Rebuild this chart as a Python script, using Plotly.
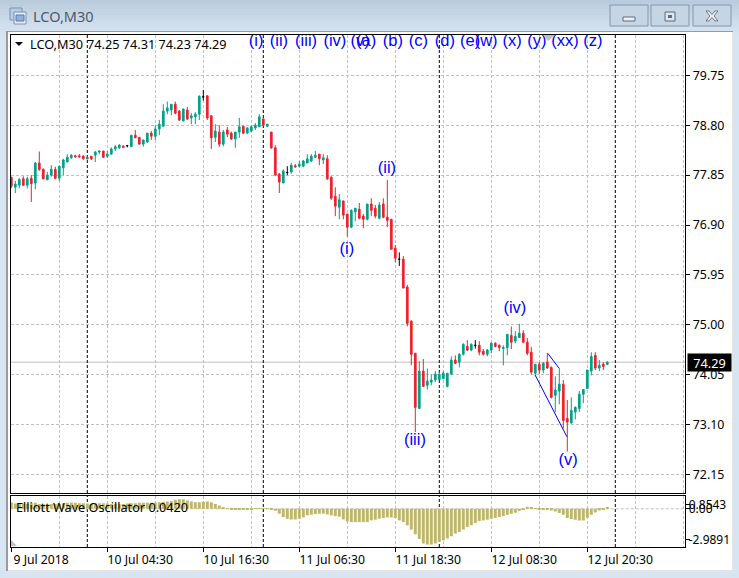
import plotly.graph_objects as go

W, H = 739, 578

# ---------- chart data ----------
open_ = [77.81,77.62,77.66,77.78,77.66,77.79,77.70,78.08,77.96,77.76,
         77.85,77.96,77.79,77.99,78.10,78.18,78.22,78.22,78.21,78.16,
         78.21,78.23,78.29,78.31,78.21,78.25,78.35,78.37,78.40,78.41,
         78.39,78.61,78.57,78.44,78.48,78.65,78.59,78.73,78.78,79.07,
         79.09,79.20,79.07,78.88,79.09,78.94,78.96,79.01,79.34,79.36,
         78.98,78.57,78.67,78.44,78.71,78.65,78.54,78.67,78.78,78.65,
         78.69,78.75,78.77,78.92,78.78,78.67,78.37,77.87,77.70,77.90,
         77.91,78.03,78.02,78.02,78.08,78.12,78.19,78.25,78.14,78.16,
         77.81,77.45,77.24,77.36,77.11,76.86,77.15,77.20,77.07,77.01,
         77.30,77.22,77.03,77.30,77.05,77.01,76.46,76.25,76.25,75.72,
         75.07,74.46,73.41,74.12,73.85,73.91,73.95,73.96,73.98,73.83,
         74.06,74.33,74.29,74.44,74.59,74.52,74.61,74.61,74.50,74.44,
         74.52,74.65,74.61,74.55,74.57,74.80,74.69,74.76,74.84,74.67,
         74.48,74.08,74.25,74.14,74.29,74.19,73.66,73.74,73.87,73.22,
         73.13,73.34,73.41,73.68,73.79,74.12,74.42,74.18,74.25,74.25]
high = [77.82,77.74,77.79,77.83,77.82,77.85,78.10,78.30,77.98,77.91,
        78.04,78.01,78.02,78.16,78.25,78.25,78.24,78.25,78.23,78.20,
        78.21,78.31,78.31,78.31,78.31,78.38,78.42,78.44,78.42,78.42,
        78.61,78.71,78.57,78.52,78.65,78.69,78.80,78.90,79.20,79.25,
        79.20,79.25,79.09,79.11,79.15,79.03,79.05,79.37,79.47,79.37,
        78.99,78.82,78.80,78.71,78.77,78.68,78.67,78.94,78.78,78.75,
        78.80,78.84,79.01,78.93,78.82,78.67,78.42,77.89,77.96,78.02,
        78.08,78.06,78.12,78.14,78.25,78.25,78.31,78.25,78.25,78.23,
        77.83,77.62,77.49,77.36,77.11,77.20,77.22,77.32,77.11,77.30,
        77.41,77.28,77.34,77.41,77.76,77.01,76.52,76.38,76.31,75.76,
        75.09,74.46,74.31,74.35,74.17,74.06,74.12,74.10,74.12,74.08,
        74.40,74.42,74.46,74.65,74.71,74.65,74.71,74.69,74.54,74.54,
        74.67,74.67,74.63,74.61,74.82,74.97,74.88,75.02,74.90,74.75,
        74.58,74.25,74.29,74.29,74.46,74.21,74.02,74.17,73.95,73.57,
        73.62,73.45,73.74,73.77,74.14,74.48,74.48,74.33,74.29,74.31]
low = [77.60,77.51,77.60,77.64,77.60,77.34,77.58,77.93,77.77,77.76,
       77.82,77.77,77.74,77.85,78.10,78.16,78.18,78.18,78.15,78.15,
       78.14,78.10,78.25,78.19,78.18,78.25,78.31,78.35,78.38,78.38,
       78.39,78.56,78.44,78.39,78.46,78.52,78.52,78.61,78.78,79.01,
       78.99,79.01,78.88,78.88,78.90,78.82,78.82,78.90,79.27,78.90,
       78.35,78.48,78.39,78.40,78.57,78.52,78.37,78.56,78.63,78.63,
       78.67,78.71,78.77,78.78,78.77,78.35,77.85,77.51,77.70,77.85,
       77.88,77.99,78.00,78.00,78.08,78.10,78.18,78.04,78.06,77.76,
       77.38,77.07,77.01,77.01,76.68,76.84,76.97,77.01,76.84,76.99,
       77.07,77.03,77.01,77.03,76.86,76.44,76.19,76.12,75.70,74.97,
       74.23,72.96,73.41,73.83,73.77,73.85,73.91,73.95,73.96,73.81,
       74.06,74.25,74.19,74.42,74.50,74.50,74.55,74.42,74.42,74.40,
       74.46,74.57,74.50,74.23,74.42,74.54,74.65,74.76,74.65,74.42,
       74.06,74.02,74.06,74.08,74.16,73.60,73.34,73.49,73.03,72.59,
       73.13,73.20,73.34,73.51,73.79,74.04,74.14,74.12,74.14,74.23]
close = [77.64,77.68,77.77,77.66,77.78,77.69,78.08,77.96,77.78,77.85,
         77.96,77.79,78.02,78.14,78.19,78.23,78.20,78.20,78.16,78.19,
         78.16,78.29,78.31,78.19,78.25,78.35,78.39,78.42,78.38,78.41,
         78.61,78.56,78.44,78.52,78.65,78.59,78.73,78.82,79.07,79.13,
         79.20,79.03,78.90,79.11,78.92,78.98,79.01,79.35,79.34,78.94,
         78.56,78.69,78.44,78.67,78.63,78.54,78.67,78.77,78.65,78.75,
         78.77,78.80,78.96,78.80,78.82,78.37,77.85,77.72,77.93,77.90,
         78.04,78.01,78.06,78.12,78.16,78.21,78.23,78.16,78.18,77.78,
         77.41,77.26,77.38,77.09,76.86,77.18,77.22,77.03,77.01,77.30,
         77.18,77.07,77.28,77.05,76.99,76.44,76.27,76.25,75.70,75.03,
         74.44,73.43,74.12,73.83,73.93,73.95,74.06,74.06,74.08,74.08,
         74.33,74.27,74.44,74.63,74.52,74.63,74.61,74.48,74.44,74.52,
         74.65,74.59,74.57,74.57,74.82,74.67,74.78,74.84,74.67,74.46,
         74.10,74.25,74.14,74.27,74.18,73.62,73.76,73.87,73.18,73.15,
         73.37,73.43,73.68,73.77,74.14,74.40,74.18,74.23,74.21,74.29]
oscillator = [.50,.44,.41,.44,.41,.47,.50,.41,.39,.39,
              .41,.41,.41,.47,.50,.53,.50,.47,.47,.44,
              .41,.44,.47,.47,.44,.41,.41,.39,.41,.44,
              .47,.47,.50,.50,.50,.50,.53,.55,.58,.61,
              .64,.75,.79,.79,.69,.61,.55,.55,.58,.61,
              .55,.41,.28,.14,.03,-.03,-.06,-.06,-.05,-.04,
              -.02,-.01,.01,.02,.01,-.06,-.17,-.41,-.69,-.83,
              -.89,-.89,-.83,-.72,-.55,-.50,-.44,-.41,-.41,-.47,
              -.55,-.61,-.66,-.89,-1.05,-1.11,-1.11,-1.11,-1.11,-1.11,
              -.97,-.91,-.83,-.77,-.72,-.72,-.77,-.97,-1.11,-1.38,
              -1.74,-2.13,-2.52,-2.90,-2.99,-2.99,-2.90,-2.77,-2.63,-2.49,
              -2.30,-2.07,-1.94,-1.74,-1.52,-1.38,-1.19,-1.02,-.97,-.91,
              -.83,-.77,-.69,-.61,-.50,-.41,-.33,-.19,-.03,.17,
              .08,.03,-.08,-.11,-.08,-.14,-.22,-.36,-.50,-.77,
              -.86,-.91,-.97,-.97,-.75,-.50,-.30,-.14,-.06,.08]

price_ticks = [79.75, 78.80, 77.85, 76.90, 75.95, 75.00, 74.05, 73.10, 72.15]
price_labels = ["79.75", "78.80", "77.85", "76.90", "75.95", "75.00", "74.05", "73.10", "72.15"]
date_ticks = [0, 24, 48, 72, 96, 120, 144]
date_labels = ["9 Jul 2018\u00a0\u00a0", "10 Jul 04:30", "10 Jul 16:30", "11 Jul 06:30",
               "11 Jul 18:30", "12 Jul 08:30", "12 Jul 20:30"]
grid_bars = [12, 36, 60, 84, 108, 132, 156, 168]
day_breaks = [19, 63, 107, 151]
osc_ticks = [0.37, 0.0, -2.59]
osc_labels = ["0.8543", "0.00", "-2.9891"]

wave_names = ["(i)", "(ii)", "(iii)", "(iv)", "(v)"]
wave_x = [83.9, 93.9, 100.9, 125.9, 139.2]
wave_y = [76.42, 77.97, 72.80, 75.30, 72.42]
top_names = ["(i)", "(ii)", "(iii)", "(iv)", "(v)", "(a)", "(b)", "(c)", "(d)", "(e)",
             "(w)", "(x)", "(y)", "(xx)", "(z)"]
top_x = [61.2, 66.9, 73.7, 80.9, 87.2, 88.7, 95.4, 101.8, 108.4, 114.7,
         118.7, 125.2, 131.4, 138.4, 145.4]
top_y = [80.385] * len(top_names)
wedge_upper_x = [134.1, 137.0]
wedge_upper_y = [74.46, 74.17]
wedge_lower_x = [131.0, 138.9]
wedge_lower_y = [74.04, 72.87]
last_price = 74.29

GREEN, RED = "#00A287", "#EE2229"
GRID = "#C0C0C0"
FONT = "Noto Sans"
TXT = 12.7


def fx(v):
    return v / W


def fy(v):
    return 1 - v / H


bars = list(range(len(open_)))
body = [i for i in bars if open_[i] != close[i]]
doji = [i for i in bars if open_[i] == close[i]]

fig = go.Figure()
fig.add_trace(go.Candlestick(
    x=body,
    open=[open_[i] for i in body], high=[high[i] for i in body],
    low=[low[i] for i in body], close=[close[i] for i in body],
    increasing=dict(line=dict(color=GREEN, width=1), fillcolor=GREEN),
    decreasing=dict(line=dict(color=RED, width=1), fillcolor=RED),
    whiskerwidth=0, hoverinfo="skip", showlegend=False, xaxis="x", yaxis="y"))
fig.add_trace(go.Candlestick(
    x=doji,
    open=[open_[i] for i in doji], high=[high[i] for i in doji],
    low=[low[i] for i in doji], close=[close[i] for i in doji],
    increasing=dict(line=dict(color="black", width=1), fillcolor="black"),
    decreasing=dict(line=dict(color="black", width=1), fillcolor="black"),
    whiskerwidth=0, hoverinfo="skip", showlegend=False, xaxis="x", yaxis="y"))
fig.add_trace(go.Scatter(x=wedge_upper_x, y=wedge_upper_y, mode="lines",
                         line=dict(color="#0000FF", width=1), hoverinfo="skip", showlegend=False))
fig.add_trace(go.Scatter(x=wedge_lower_x, y=wedge_lower_y, mode="lines",
                         line=dict(color="#0000FF", width=1), hoverinfo="skip", showlegend=False))
for xs, ys, names in ((wave_x, wave_y, wave_names), (top_x, top_y, top_names)):
    fig.add_trace(go.Scatter(x=xs, y=ys, text=names, mode="text",
                             textposition="middle center",
                             textfont=dict(family="Liberation Sans", size=16.5, color="#0000FF"),
                             hoverinfo="skip", showlegend=False))
fig.add_trace(go.Bar(x=bars, y=oscillator, marker=dict(color="#BDB76B", line=dict(width=0)),
                     hoverinfo="skip", showlegend=False, xaxis="x2", yaxis="y2"))

shapes = []


def rect(x0, y0, x1, y1, fill, line=None, lw=1, layer="below"):
    shapes.append(dict(type="rect", xref="paper", yref="paper", layer=layer,
                       x0=fx(x0), x1=fx(x1), y0=fy(y0), y1=fy(y1),
                       fillcolor=fill, line=dict(color=line or fill, width=lw if line else 0)))


def poly(pts, fill, layer="above", line=None):
    p = "M" + " L".join(f"{fx(a):.5f},{fy(b):.5f}" for a, b in pts) + " Z"
    shapes.append(dict(type="path", path=p, xref="paper", yref="paper", layer=layer,
                       fillcolor=fill, line=dict(color=line or fill, width=1 if line else 0)))


# window chrome: title-bar gradient, frame, client area
strip_cols = ["#B9CBDC", "#BCCEDE", "#BFD0E0", "#C2D3E3", "#C5D5E5", "#C8D8E7",
              "#CBDAE9", "#CEDDEB", "#D0DFED", "#D3E1EF", "#D5E3F0"]
for k, col in enumerate(strip_cols):
    rect(0, k * 3, W, (k + 1) * 3 + 1, col)
rect(6, 31, 733, 572, "#E4E4E4")
rect(7, 31, 733, 32, "#9A9A9A")
rect(6, 31, 8, 571, "#9A9A9A")
rect(8, 32, 732, 570, "white")
rect(10, 34, 686, 548, "white")

# title icon
rect(10, 8, 22, 20, "#B8CCE4", "#7F93B2")
rect(14, 12, 26, 24, "#E3ECF7", "#7F93B2")
rect(16, 15, 24, 21, "#8FB0DA", "#5C7BA8")
# window buttons
for x0, x1 in ((610, 648), (651, 689), (693, 731)):
    rect(x0, 5, x1, 26, "#C6D5E4", "#8496AD")
rect(623, 17, 635, 21, "#EEF2F6", "#5E6B7B")
rect(665, 12, 675, 21, "#DDE5ED", "#5E6B7B")
rect(668, 15, 672, 18, "#5E6B7B")
poly([(706, 11), (709, 11), (712, 14.5), (715, 11), (718, 11), (714, 16), (718, 21), (715, 21),
      (712, 17.5), (709, 21), (706, 21), (710, 16)], "#F2F4F7", line="#6A7787")

# markers inside the chart
poly([(15, 42), (23, 42), (19, 46)], "black")
poly([(543, 35), (555, 35), (548, 41)], "#C0C0C0")
poly([(11, 546), (11, 540), (17, 546)], "#C0C0C0")

# last-price line and day separators
shapes.append(dict(type="line", xref="x domain", yref="y", x0=0, x1=1, y0=last_price, y1=last_price,
                   layer="below", line=dict(color=GRID, width=1)))
for d in day_breaks:
    for yr in ("y domain", "y2 domain"):
        shapes.append(dict(type="line", xref="x", yref=yr, x0=d, x1=d, y0=0, y1=1, layer="below",
                           line=dict(color="black", width=1, dash="3px,2px")))

annotations = [
    dict(xref="paper", yref="paper", x=fx(28), y=fy(44), text="LCO,M30", showarrow=False,
         xanchor="left", yanchor="middle", font=dict(family=FONT, size=TXT, color="black")),
    dict(xref="paper", yref="paper", x=fx(85), y=fy(44), text="74.25 74.31 74.23 74.29", showarrow=False,
         xanchor="left", yanchor="middle", font=dict(family=FONT, size=TXT, color="black")),
    dict(xref="paper", yref="paper", x=fx(14), y=fy(506.5), text="Elliott Wave Oscillator 0.0420",
         showarrow=False, xanchor="left", yanchor="middle",
         font=dict(family=FONT, size=TXT, color="black")),
    dict(xref="paper", yref="paper", x=fx(31), y=fy(16), text="LCO,M30", showarrow=False,
         xanchor="left", yanchor="middle", font=dict(family=FONT, size=14.5, color="#4C5A6B")),
    dict(xref="paper", yref="y", x=fx(687), y=last_price, text="74.29", showarrow=False,
         xanchor="left", yanchor="middle", bgcolor="black", width=41, height=15,
         font=dict(family=FONT, size=TXT, color="white")),
]

axis_common = dict(showline=True, linecolor="black", linewidth=1, mirror=True, zeroline=False,
                   gridcolor=GRID, griddash="3px,2px", gridwidth=1)

fig.update_layout(
    width=W, height=H, autosize=False,
    margin=dict(l=0, r=0, t=0, b=0, pad=0),
    paper_bgcolor="#D7E4F1", plot_bgcolor="rgba(0,0,0,0)",
    showlegend=False, bargap=0.25, boxgap=0.4, boxmode="overlay",
    font=dict(family=FONT, size=TXT, color="black"),
    shapes=shapes, annotations=annotations,
    xaxis=dict(domain=[fx(10.7), fx(685.3)], range=[-0.15, 168.5], anchor="y", matches="x2",
               rangeslider=dict(visible=False), tickmode="array", tickvals=date_ticks,
               ticktext=date_labels, showticklabels=False, ticks="", showgrid=True,
               minor=dict(tickvals=grid_bars, showgrid=True, ticks="", griddash="3px,2px",
                          gridcolor=GRID, gridwidth=1), **axis_common),
    yaxis=dict(domain=[fy(493.0), fy(34.5)], range=[71.80, 80.527], anchor="x", side="right",
               tickmode="array", tickvals=price_ticks, ticktext=price_labels, ticks="outside",
               ticklen=4, tickcolor="black", tickfont=dict(size=12.4), showgrid=True, **axis_common),
    xaxis2=dict(domain=[fx(10.7), fx(685.3)], range=[-0.15, 168.5], anchor="y2",
                tickmode="array", tickvals=date_ticks, ticktext=date_labels, ticks="outside",
                ticklen=4, tickcolor="black", tickfont=dict(size=12.2), ticklabelshift=33,
                ticklabelstandoff=-3, showgrid=True,
                minor=dict(tickvals=grid_bars, showgrid=True, ticks="", griddash="3px,2px",
                           gridcolor=GRID, gridwidth=1), **axis_common),
    yaxis2=dict(domain=[fy(547), fy(496)], range=[-3.195, 1.07], anchor="x2", side="right",
                tickmode="array", tickvals=osc_ticks, ticktext=osc_labels, ticks="outside",
                ticklen=4, tickcolor="black", tickfont=dict(size=12), ticklabelstandoff=-4,
                showgrid=False, **axis_common),
)
fig.add_shape(type="line", xref="x2 domain", yref="y2", x0=0, x1=1, y0=0, y1=0, layer="below",
              line=dict(color=GRID, width=1, dash="3px,2px"))

fig.write_html("out.html", config=dict(displayModeBar=False),
               post_script="document.body.style.margin='0';document.documentElement.style.overflow='hidden';")
